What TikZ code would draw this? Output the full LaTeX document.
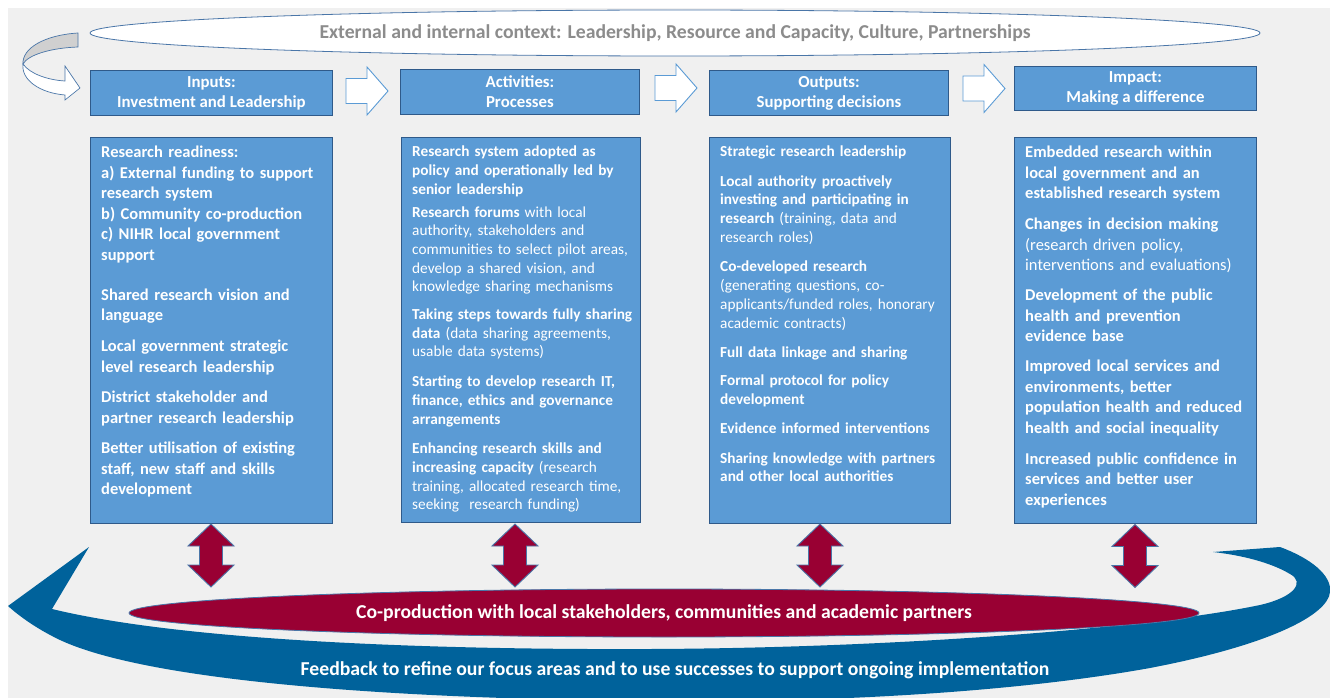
\documentclass[tikz,border=0pt]{standalone}
\usepackage{fontspec}
\setmainfont{Carlito}
\usetikzlibrary{shapes.geometric,calc}
\definecolor{bg}{HTML}{F0F0F0}
\definecolor{boxfill}{HTML}{5B9BD5}
\definecolor{boxline}{HTML}{2F5A8A}
\definecolor{darkred}{HTML}{990033}
\definecolor{fbblue}{HTML}{00629B}
\definecolor{ctxgrey}{HTML}{8C8C8C}
\definecolor{ctxline}{HTML}{4A76A8}
\definecolor{curvgrey}{HTML}{D0D0D0}
\tikzset{
  hdr/.style={rectangle, draw=boxline, line width=0.9pt, fill=boxfill, text=white, align=center,
    font=\fontsize{16.8}{20}\selectfont\bfseries, inner sep=0pt, anchor=north west},
  cbox/.style={rectangle, draw=boxline, line width=0.9pt, fill=boxfill, inner sep=0pt, anchor=north west},
  bigtxt/.style={text=white, align=left, anchor=north west, inner sep=0pt, text width=240pt,
    font=\fontsize{16.5}{20.5}\selectfont},
  smalltxt/.style={text=white, align=left, anchor=north west, inner sep=0pt, text width=240pt,
    font=\fontsize{15.3}{18.7}\selectfont},
  blockarrow/.style={draw=boxfill, line width=0.9pt, fill=white, line join=miter},
  dblarrow/.style={draw=ctxline, line width=0.9pt, fill=darkred, line join=miter},
  curvline/.style={draw=ctxline, line width=0.7pt},
  rblock/.pic={\draw[blockarrow] (0,-12.5) -- (21,-12.5) -- (21,-24) -- (42,0) -- (21,24) -- (21,12.5) -- (0,12.5) -- cycle;},
  vdbl/.pic={\draw[dblarrow] (0,-31.5) -- (23,-9.5) -- (11.5,-9.5) -- (11.5,9.5) -- (23,9.5) -- (0,31.5) -- (-23,9.5) -- (-11.5,9.5) -- (-11.5,-9.5) -- (-23,-9.5) -- cycle;}
}
\begin{document}
\begin{tikzpicture}[x=1pt,y=-1pt]
\useasboundingbox (0,0) rectangle (1330,698);
\fill[bg] (8,8) rectangle (1330,698);

% feedback arrow
\fill[fbblue] (8,606) -- (89,547) -- (52,609)
  .. controls (180,640) and (420,650) .. (650,649)
  .. controls (900,648) and (1150,628) .. (1260,605)
  .. controls (1295,597) and (1305,582) .. (1290,574)
  .. controls (1270,562) and (1240,555) .. (1213,552)
  -- (1280,547)
  .. controls (1310,558) and (1332,575) .. (1330,592)
  .. controls (1328,615) and (1270,645) .. (1150,668)
  .. controls (1000,695) and (800,703) .. (650,701)
  .. controls (400,699) and (150,682) .. (60,640)
  .. controls (35,628) and (18,615) .. (8,606) -- cycle;
\node[text=white, font=\fontsize{19.7}{22}\selectfont\bfseries, inner sep=0pt] (fb) at (675,670)
  {Feedback to refine our focus areas and to use successes to support ongoing implementation};

% context ellipse
\node[ellipse, draw=ctxline, line width=0.8pt, fill=white, minimum width=1170pt, minimum height=46pt,
  inner sep=0pt, text=ctxgrey, font=\fontsize{19.7}{22}\selectfont\bfseries] (ctx) at (675,33)
  {External and internal context: Leadership, Resource and Capacity, Culture, Partnerships};

% curved arrow top-left
\filldraw[curvline, fill=curvgrey] (78,33) .. controls (45,35) and (22,48) .. (23,64)
  .. controls (28,55) and (50,48) .. (78,47) -- cycle;
\filldraw[curvline, fill=white] (23,64) .. controls (30,74) and (48,80) .. (65,81) -- (65,66) -- (80,88)
  -- (65,100) -- (65,95) .. controls (40,93) and (21,80) .. (23,64) -- cycle;

% headers
\node[hdr, minimum width=242pt, minimum height=45pt] (hin) at (90,70) {Inputs:\\Investment and Leadership};
\node[hdr, minimum width=239pt, minimum height=45pt] (hact) at (400,69) {Activities:\\Processes};
\node[hdr, minimum width=239pt, minimum height=45pt] (hout) at (709,70) {Outputs:\\Supporting decisions};
\node[hdr, minimum width=242pt, minimum height=44pt] (himp) at (1014,66) {Impact:\\Making a difference};

\pic at (346,91) {rblock};
\pic at (655,88) {rblock};
\pic at (963,88.5) {rblock};

% content boxes
\node[cbox, minimum width=242pt, minimum height=386pt] (bin) at (90,137) {};
\node[cbox, minimum width=239pt, minimum height=385pt] (bact) at (401,137) {};
\node[cbox, minimum width=241pt, minimum height=386pt] (bout) at (709,137) {};
\node[cbox, minimum width=242pt, minimum height=386pt] (bimp) at (1014,137) {};

\node[bigtxt] (tin) at ($(bin.north west)+(11,9)$) {\bfseries
Research readiness:\\
a) External funding to support\\
research system\\
b) Community co-production\\
c) NIHR local government\\
support\\[19.5pt]
Shared research vision and\\
language\\[10.5pt]
Local government strategic\\
level research leadership\\[10pt]
District stakeholder and\\
partner research leadership\\[10pt]
Better utilisation of existing\\
staff, new staff and skills\\
development};

\node[smalltxt] (tact) at ($(bact.north west)+(11,9)$) {%
\textbf{Research system adopted as}\\
\textbf{policy and operationally led by}\\
\textbf{senior leadership}\\[4pt]
\textbf{Research forums} with local\\
authority, stakeholders and\\
communities to select pilot areas,\\
develop a shared vision, and\\
knowledge sharing mechanisms\\[9pt]
\textbf{Taking steps towards fully sharing}\\
\textbf{data} (data sharing agreements,\\
usable data systems)\\[11pt]
\textbf{Starting to develop research IT,}\\
\textbf{finance, ethics and governance}\\
\textbf{arrangements}\\[11pt]
\textbf{Enhancing research skills and}\\
\textbf{increasing capacity} (research\\
training, allocated research time,\\
seeking\ \ research funding)};

\node[smalltxt] (tout) at ($(bout.north west)+(11,9)$) {%
\textbf{Strategic research leadership}\\[10.5pt]
\textbf{Local authority proactively}\\
\textbf{investing and participating in}\\
\textbf{research} (training, data and\\
research roles)\\[11pt]
\textbf{Co-developed research}\\
(generating questions, co-\\
applicants/funded roles, honorary\\
academic contracts)\\[11pt]
\textbf{Full data linkage and sharing}\\[9.5pt]
\textbf{Formal protocol for policy}\\
\textbf{development}\\[10.5pt]
\textbf{Evidence informed interventions}\\[10.5pt]
\textbf{Sharing knowledge with partners}\\
\textbf{and other local authorities}};

\node[bigtxt] (timp) at ($(bimp.north west)+(11,9)$) {%
\textbf{Embedded research within}\\
\textbf{local government and an}\\
\textbf{established research system}\\[10.5pt]
\textbf{Changes in decision making}\\
(research driven policy,\\
interventions and evaluations)\\[9.5pt]
\textbf{Development of the public}\\
\textbf{health and prevention}\\
\textbf{evidence base}\\[9.5pt]
\textbf{Improved local services and}\\
\textbf{environments, better}\\
\textbf{population health and reduced}\\
\textbf{health and social inequality}\\[10.5pt]
\textbf{Increased public confidence in}\\
\textbf{services and better user}\\
\textbf{experiences}};

% co-production ellipse
\node[ellipse, draw=ctxline, line width=0.8pt, fill=darkred, minimum width=1070pt, minimum height=48pt,
  inner sep=0pt, text=white, font=\fontsize{19.7}{22}\selectfont\bfseries] (coprod) at (664,613)
  {Co-production with local stakeholders, communities and academic partners};

% double arrows
\pic at (211,555.5) {vdbl};
\pic at (515,555.5) {vdbl};
\pic at (820,555.5) {vdbl};
\pic at (1135,556) {vdbl};
\end{tikzpicture}
\end{document}
